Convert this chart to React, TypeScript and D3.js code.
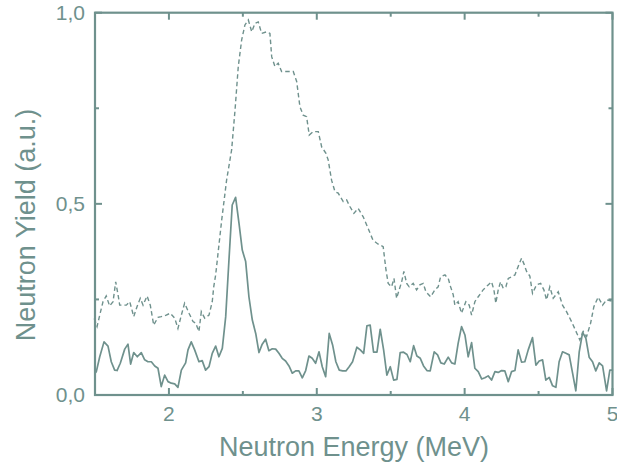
import React from "react";
import * as d3 from "d3";

// Solid series (lower)
const solidEnergy = [1.500,1.509,1.532,1.561,1.588,1.610,1.633,1.649,1.671,1.701,1.723,1.741,1.762,1.786,1.813,1.836,1.858,1.881,1.904,1.926,1.948,1.971,1.994,2.016,2.039,2.061,2.084,2.113,2.129,2.151,2.174,2.203,2.225,2.248,2.271,2.293,2.316,2.338,2.361,2.384,2.406,2.428,2.451,2.474,2.496,2.519,2.541,2.564,2.587,2.609,2.631,2.654,2.676,2.699,2.722,2.744,2.766,2.789,2.812,2.834,2.857,2.879,2.902,2.925,2.947,2.969,2.992,3.015,3.037,3.060,3.084,3.107,3.129,3.152,3.175,3.197,3.219,3.242,3.271,3.294,3.317,3.339,3.361,3.384,3.407,3.429,3.452,3.474,3.497,3.520,3.542,3.564,3.587,3.610,3.632,3.655,3.677,3.700,3.722,3.745,3.767,3.794,3.817,3.839,3.862,3.889,3.912,3.934,3.956,3.979,4.002,4.024,4.047,4.069,4.092,4.115,4.137,4.159,4.182,4.205,4.227,4.250,4.272,4.295,4.317,4.340,4.362,4.385,4.407,4.430,4.459,4.482,4.504,4.527,4.549,4.572,4.595,4.617,4.639,4.662,4.685,4.707,4.730,4.752,4.775,4.798,4.820,4.842,4.865,4.887,4.910,4.933,4.960,4.982,5.004];
const solidYield = [0.057,0.061,0.100,0.139,0.128,0.087,0.065,0.064,0.083,0.120,0.133,0.081,0.111,0.100,0.111,0.092,0.087,0.087,0.076,0.070,0.022,0.052,0.035,0.031,0.029,0.020,0.065,0.084,0.118,0.139,0.118,0.087,0.090,0.065,0.074,0.109,0.128,0.100,0.122,0.205,0.353,0.497,0.517,0.449,0.379,0.349,0.257,0.196,0.161,0.111,0.133,0.146,0.116,0.121,0.120,0.109,0.096,0.089,0.076,0.057,0.063,0.063,0.045,0.064,0.102,0.096,0.083,0.113,0.074,0.048,0.161,0.131,0.087,0.065,0.063,0.063,0.074,0.087,0.125,0.118,0.109,0.181,0.183,0.112,0.112,0.172,0.118,0.052,0.074,0.039,0.041,0.111,0.112,0.106,0.087,0.129,0.102,0.096,0.076,0.064,0.063,0.113,0.105,0.084,0.081,0.099,0.084,0.081,0.135,0.179,0.157,0.100,0.137,0.070,0.061,0.042,0.045,0.050,0.039,0.061,0.059,0.064,0.063,0.035,0.061,0.064,0.118,0.086,0.087,0.118,0.150,0.078,0.089,0.092,0.039,0.046,0.024,0.020,0.087,0.113,0.109,0.105,0.057,0.011,0.113,0.164,0.148,0.099,0.087,0.063,0.084,0.076,0.011,0.065,0.065];

// Dashed series (upper)
const dashedEnergy = [1.495,1.514,1.532,1.554,1.576,1.599,1.622,1.640,1.656,1.667,1.689,1.712,1.735,1.762,1.784,1.806,1.825,1.852,1.874,1.897,1.926,1.948,1.982,2.009,2.039,2.061,2.084,2.106,2.136,2.163,2.181,2.203,2.219,2.242,2.271,2.293,2.303,2.316,2.357,2.390,2.424,2.447,2.469,2.492,2.514,2.537,2.560,2.582,2.604,2.627,2.661,2.683,2.695,2.717,2.739,2.762,2.796,2.841,2.864,2.886,2.908,2.931,2.949,2.976,3.010,3.033,3.062,3.077,3.100,3.123,3.145,3.179,3.202,3.224,3.251,3.280,3.314,3.346,3.380,3.413,3.449,3.468,3.483,3.506,3.522,3.540,3.557,3.574,3.589,3.608,3.625,3.652,3.675,3.697,3.720,3.738,3.770,3.799,3.821,3.837,3.867,3.889,3.905,3.923,3.934,3.956,3.979,4.008,4.031,4.047,4.069,4.092,4.125,4.159,4.182,4.198,4.211,4.227,4.243,4.261,4.279,4.295,4.317,4.340,4.362,4.385,4.401,4.419,4.441,4.459,4.486,4.514,4.536,4.554,4.576,4.599,4.633,4.662,4.689,4.723,4.757,4.779,4.802,4.825,4.852,4.874,4.903,4.933,4.960,4.994];
const dashedYield = [0.200,0.179,0.209,0.244,0.259,0.233,0.244,0.296,0.262,0.235,0.235,0.235,0.244,0.205,0.231,0.253,0.235,0.259,0.235,0.183,0.203,0.205,0.209,0.214,0.201,0.174,0.209,0.240,0.214,0.192,0.188,0.166,0.218,0.201,0.209,0.244,0.283,0.314,0.458,0.562,0.641,0.745,0.859,0.929,0.968,0.981,0.950,0.972,0.976,0.946,0.950,0.946,0.885,0.859,0.868,0.846,0.846,0.846,0.820,0.754,0.732,0.728,0.680,0.689,0.689,0.649,0.632,0.615,0.562,0.532,0.528,0.506,0.510,0.493,0.475,0.488,0.466,0.437,0.405,0.395,0.388,0.327,0.292,0.283,0.305,0.253,0.275,0.296,0.323,0.292,0.283,0.292,0.275,0.288,0.292,0.270,0.257,0.275,0.283,0.309,0.314,0.305,0.283,0.262,0.235,0.244,0.214,0.244,0.235,0.209,0.244,0.257,0.275,0.288,0.296,0.275,0.240,0.275,0.296,0.279,0.283,0.305,0.309,0.314,0.336,0.358,0.343,0.323,0.311,0.266,0.288,0.292,0.275,0.249,0.283,0.253,0.270,0.235,0.218,0.192,0.163,0.144,0.166,0.153,0.188,0.231,0.256,0.235,0.249,0.246];

const xMajorTicks = [2, 3, 4, 5];
const xMinorTicks = [2.5, 3.5, 4.5];
const yMajorTicks = [0, 0.5, 1];
const yMinorTicks = [0.25, 0.75];
const xTitle = "Neutron Energy (MeV)";
const yTitle = "Neutron Yield (a.u.)";

const W = 617;
const H = 469;
const L = 95, R = 612.5, T = 12.7, B = 395;
const COLOR = "#6f918d";
const FONT = "'Liberation Sans', Arial, sans-serif";

export default function App() {
  const x = d3.scaleLinear().domain([1.5, 5]).range([L, R]);
  const y = d3.scaleLinear().domain([0, 1]).range([B, T]);
  const line = d3.line<[number, number]>().x(d => x(d[0])).y(d => y(d[1]));
  const solid = line(solidEnergy.map((e, i) => [e, solidYield[i]] as [number, number])) || "";
  const dashed = line(dashedEnergy.map((e, i) => [e, dashedYield[i]] as [number, number])) || "";
  const fmt = (v: number) => v.toFixed(1).replace(".", ",");
  const majorLen = 7, minorLen = 4;

  return (
    <svg width={W} height={H} style={{ position: "absolute", left: 0, top: 0, background: "#fff" }}>
      <path d={dashed} fill="none" stroke={COLOR} strokeWidth={1.4} strokeDasharray="4.5,3" />
      <path d={solid} fill="none" stroke={COLOR} strokeWidth={1.7} strokeLinejoin="round" />
      <rect x={L} y={T} width={R - L} height={B - T} fill="none" stroke={COLOR} strokeWidth={2.2} />
      {xMajorTicks.map(t => (
        <g key={"xM" + t}>
          <line x1={x(t)} x2={x(t)} y1={B} y2={B - majorLen} stroke={COLOR} strokeWidth={2} />
          <line x1={x(t)} x2={x(t)} y1={T} y2={T + majorLen} stroke={COLOR} strokeWidth={2} />
          <text x={x(t)} y={421} textAnchor="middle" fontSize={21} fill={COLOR} fontFamily={FONT}>{t}</text>
        </g>
      ))}
      {xMinorTicks.map(t => (
        <g key={"xm" + t}>
          <line x1={x(t)} x2={x(t)} y1={B} y2={B - minorLen} stroke={COLOR} strokeWidth={2} />
          <line x1={x(t)} x2={x(t)} y1={T} y2={T + minorLen} stroke={COLOR} strokeWidth={2} />
        </g>
      ))}
      {yMajorTicks.map(t => (
        <g key={"yM" + t}>
          <line x1={L} x2={L + majorLen} y1={y(t)} y2={y(t)} stroke={COLOR} strokeWidth={2} />
          <line x1={R} x2={R - majorLen} y1={y(t)} y2={y(t)} stroke={COLOR} strokeWidth={2} />
          <text x={85} y={y(t)} dy="0.35em" textAnchor="end" fontSize={21} fill={COLOR} fontFamily={FONT}>{fmt(t)}</text>
        </g>
      ))}
      {yMinorTicks.map(t => (
        <g key={"ym" + t}>
          <line x1={L} x2={L + minorLen} y1={y(t)} y2={y(t)} stroke={COLOR} strokeWidth={2} />
          <line x1={R} x2={R - minorLen} y1={y(t)} y2={y(t)} stroke={COLOR} strokeWidth={2} />
        </g>
      ))}
      <text x={354} y={456} textAnchor="middle" fontSize={27} fill={COLOR} fontFamily={FONT}>{xTitle}</text>
      <text transform="translate(35, 225) rotate(-90)" textAnchor="middle" fontSize={27} fill={COLOR} fontFamily={FONT}>{yTitle}</text>
    </svg>
  );
}
